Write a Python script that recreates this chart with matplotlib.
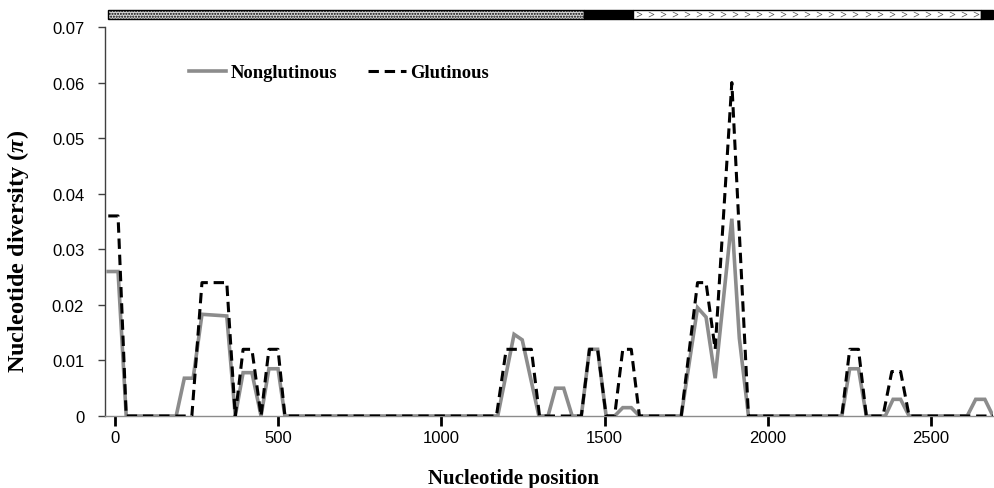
import matplotlib
matplotlib.use("Agg")
import matplotlib.pyplot as plt
import matplotlib.transforms as mtransforms
from matplotlib.patches import Rectangle
import numpy as np

plt.rcParams["mathtext.fontset"] = "custom"
plt.rcParams["mathtext.it"] = "Liberation Serif:italic:bold"
plt.rcParams["mathtext.rm"] = "Liberation Serif:bold"

# ---- data ----
glut_x = [-20, 10, 35, 236, 267, 343, 369, 393, 420, 448, 472, 500, 521,
          1169, 1199, 1276, 1301, 1429, 1454, 1479, 1505, 1531, 1556, 1582, 1607,
          1735, 1785, 1811, 1839, 1890, 1941, 2227, 2251, 2278, 2302,
          2353, 2380, 2407, 2433, 2690]
glut_y = [0.036, 0.036, 0, 0, 0.024, 0.024, 0, 0.012, 0.012, 0, 0.012, 0.012, 0,
          0, 0.012, 0.012, 0, 0, 0.012, 0.012, 0, 0, 0.012, 0.012, 0,
          0, 0.024, 0.024, 0.012, 0.060, 0, 0, 0.012, 0.012, 0,
          0, 0.008, 0.008, 0, 0]

nong_x = [-20, 10, 35, 188, 213, 240, 267, 343, 369, 393, 420, 448, 472, 500, 521,
          1173, 1223, 1248, 1299, 1327, 1350, 1375, 1401, 1429, 1454, 1479, 1505,
          1531, 1556, 1582, 1607, 1735, 1785, 1811, 1839, 1890, 1913, 1941,
          2227, 2251, 2278, 2302, 2360, 2384, 2407, 2433, 2611, 2637, 2665, 2690]
nong_y = [0.026, 0.026, 0, 0, 0.0068, 0.0068, 0.0183, 0.018, 0, 0.0078, 0.0078, 0, 0.0085, 0.0085, 0,
          0, 0.0147, 0.0137, 0, 0, 0.005, 0.005, 0, 0, 0.012, 0.012, 0,
          0, 0.0015, 0.0015, 0, 0, 0.0195, 0.0178, 0.0068, 0.0355, 0.014, 0,
          0, 0.0085, 0.0085, 0, 0, 0.003, 0.003, 0, 0, 0.003, 0.003, 0]

x_ticks = [0, 500, 1000, 1500, 2000, 2500]
y_ticks = [0, 0.01, 0.02, 0.03, 0.04, 0.05, 0.06, 0.07]
y_ticklabels = ["0", "0.01", "0.02", "0.03", "0.04", "0.05", "0.06", "0.07"]

# gene-structure bar segments: (start, end, style)
seg_start = [-20, 1436, 1586, 2652]
seg_end = [1436, 1586, 2652, 2690]
seg_style = ["dots", "black", "arrows", "black"]

# ---- figure ----
fig = plt.figure(figsize=(9.95, 4.89), dpi=100)
ax = fig.add_axes([105/995, 1-417/489, 888/995, 389/489])

ax.plot(nong_x, nong_y, color="#8c8c8c", lw=2.6, label="Nonglutinous",
        solid_joinstyle="miter", zorder=2)
ax.plot(glut_x, glut_y, color="black", lw=2.2, dashes=(3.4, 1.9),
        label="Glutinous", zorder=3)

ax.set_xlim(-30, 2690)
ax.set_ylim(0, 0.07)
ax.set_xticks(x_ticks)
ax.set_xticklabels([str(t) for t in x_ticks])
ax.set_yticks(y_ticks)
ax.set_yticklabels(y_ticklabels)

for s in ["top", "right"]:
    ax.spines[s].set_visible(False)
ax.spines["bottom"].set_color("#8c8c8c")
ax.spines["bottom"].set_linewidth(1.0)
ax.spines["left"].set_color("#404040")
ax.spines["left"].set_linewidth(1.0)
ax.tick_params(axis="x", direction="out", length=7, width=2, color="black",
               labelsize=12, pad=3)
ax.tick_params(axis="y", direction="out", length=5, width=1, color="#404040",
               labelsize=12, pad=10)
for lab in ax.get_xticklabels() + ax.get_yticklabels():
    lab.set_fontfamily("Liberation Sans")

ax.set_xlabel("Nucleotide position", fontfamily="Liberation Serif",
              fontweight="bold", fontsize=15)
ax.xaxis.set_label_coords((514 - 105) / 888, (417 - 469) / 389)
ax.set_ylabel(r"Nucleotide diversity ($\mathit{\pi}$)",
              fontfamily="Liberation Serif", fontweight="bold", fontsize=17.5)
ax.yaxis.set_label_coords((31 - 105) / 888, (417 - 251) / 389)

leg = ax.legend(loc="upper left", bbox_to_anchor=(0.076, 0.947), ncol=2, frameon=False,
                handlelength=2.0, handletextpad=0.25, columnspacing=1.65,
                prop={"family": "Liberation Serif", "weight": "bold", "size": 13.4})

# ---- top gene bar ----
trans = mtransforms.blended_transform_factory(ax.transData, ax.transAxes)
y0, y1 = 1.021, 1.044
for xs, xe, st in zip(seg_start, seg_end, seg_style):
    if st == "black":
        r = Rectangle((xs, y0), xe - xs, y1 - y0, transform=trans, facecolor="black",
                      edgecolor="black", lw=1, clip_on=False)
        ax.add_patch(r)
    elif st == "dots":
        r = Rectangle((xs, y0), xe - xs, y1 - y0, transform=trans, facecolor="#d8d8d8",
                      edgecolor="black", lw=1, hatch="......", clip_on=False)
        ax.add_patch(r)
    else:
        r = Rectangle((xs, y0), xe - xs, y1 - y0, transform=trans, facecolor="white",
                      edgecolor="black", lw=1, clip_on=False)
        ax.add_patch(r)
        n = int((xe - xs) / 36.5)
        xs_m = np.linspace(xs + 20, xe - 15, n)
        ax.scatter(xs_m, np.full(n, (y0 + y1) / 2), marker=r"$>$", s=18, color="#555555",
                   transform=trans, clip_on=False, linewidths=0)

fig.savefig("out.png", dpi=100)
